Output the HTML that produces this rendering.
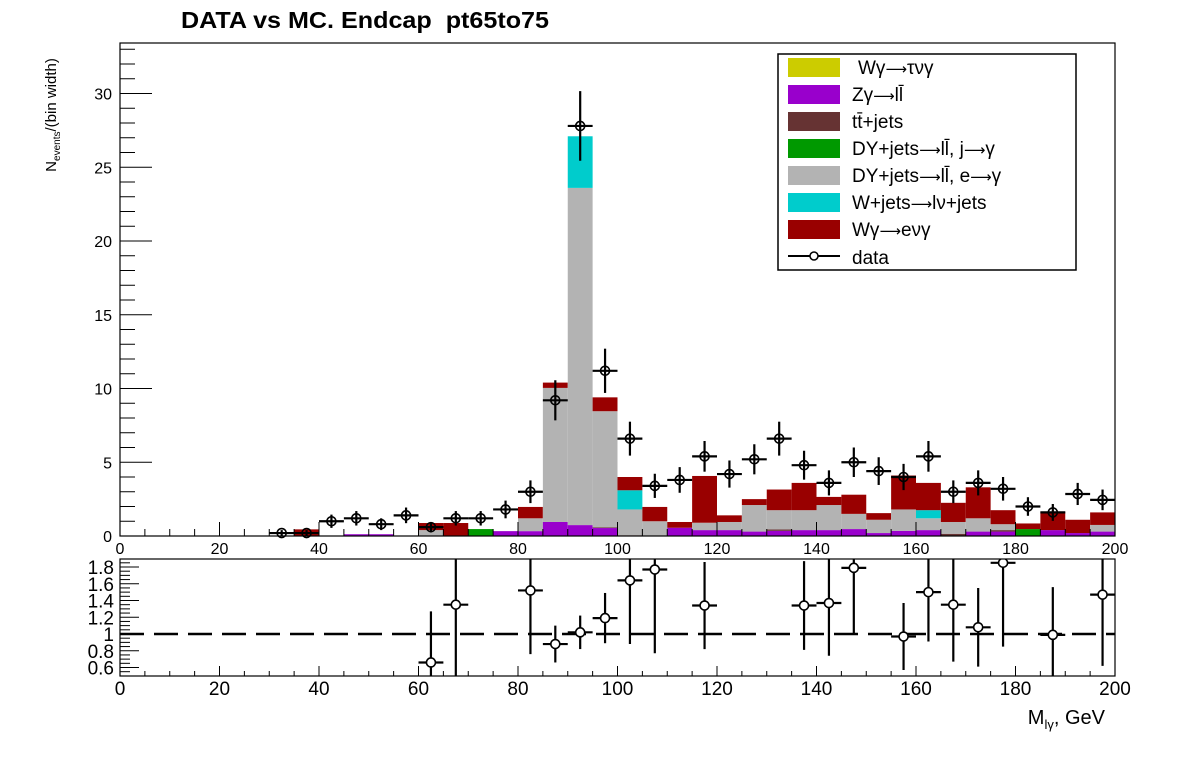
<!DOCTYPE html>
<html><head><meta charset="utf-8"><style>
body{margin:0;background:#fff;}
svg{display:block;font-family:"Liberation Sans",sans-serif;}
.ar{font-family:"DejaVu Sans",sans-serif;font-size:15px;}
</style></head><body>
<svg id="c" width="1196" height="774" viewBox="0 0 1196 774">
<rect x="0" y="0" width="1196" height="774" fill="#fff"/>
<text x="181" y="28" font-size="23" font-weight="bold" textLength="368" lengthAdjust="spacingAndGlyphs" xml:space="preserve" style="white-space:pre">DATA vs MC. Endcap  pt65to75</text>
<g id="stack"></g>
<g id="mainaxes"></g>
<g id="datapts"></g>
<g id="ratio"></g>
<text transform="translate(56,115) rotate(-90)" font-size="15" text-anchor="middle">N<tspan font-size="10" dy="4">events</tspan><tspan dy="-4">/(bin width)</tspan></text>
<text x="1105" y="724" font-size="20" text-anchor="end">M<tspan font-size="13" dy="5">lγ</tspan><tspan dy="-5">, GeV</tspan></text>
<g>
<rect x="778" y="54" width="298" height="216" fill="#fff" stroke="#000" stroke-width="1.5"/>
<g font-size="19">
<rect x="788" y="58" width="52" height="19" fill="#cccc00"/>
<text x="858" y="74">Wγ<tspan class="ar">⟶</tspan>τνγ</text>
<rect x="788" y="85" width="52" height="19" fill="#9900cc"/>
<text x="852" y="101">Zγ<tspan class="ar">⟶</tspan>ll̄</text>
<rect x="788" y="112" width="52" height="19" fill="#663333"/>
<text x="852" y="128">tt̄+jets</text>
<rect x="788" y="139" width="52" height="19" fill="#009900"/>
<text x="852" y="155">DY+jets<tspan class="ar">⟶</tspan>ll̄, j<tspan class="ar">⟶</tspan>γ</text>
<rect x="788" y="166" width="52" height="19" fill="#b3b3b3"/>
<text x="852" y="182">DY+jets<tspan class="ar">⟶</tspan>ll̄, e<tspan class="ar">⟶</tspan>γ</text>
<rect x="788" y="193" width="52" height="19" fill="#00cccc"/>
<text x="852" y="209">W+jets<tspan class="ar">⟶</tspan>lν+jets</text>
<rect x="788" y="220" width="52" height="19" fill="#990000"/>
<text x="852" y="236">Wγ<tspan class="ar">⟶</tspan>eνγ</text>
<line x1="788" y1="256" x2="840" y2="256" stroke="#000" stroke-width="2"/>
<circle cx="814" cy="256" r="4" fill="#fff" stroke="#000" stroke-width="1.5"/>
<text x="852" y="264">data</text>
</g></g>
</svg>
<script>
// bins: 40 bins of 5 GeV from 0 to 200
const binEdgesStart = 0;
const binWidth = 5;
const zgamma = [0,0,0,0,0,0,0,0,0,0.12,0.12,0,0,0,0,0.33,0.33,0.95,0.74,0.54,0,0,0.56,0.4,0.4,0.3,0.35,0.4,0.4,0.47,0.2,0.35,0.4,0,0.3,0.3,0,0.4,0.2,0.3];
const ttbar = [0,0,0,0,0,0,0,0,0,0,0,0,0,0,0,0,0,0,0,0.05,0.05,0,0,0,0,0,0.1,0,0,0,0,0,0,0.15,0,0.1,0,0,0,0];
const dyJet = [0,0,0,0,0,0,0,0,0,0,0,0,0,0,0.47,0,0,0,0,0,0,0,0,0,0,0,0,0,0,0,0,0,0,0,0,0,0.47,0,0,0];
const dyEle = [0,0,0,0,0,0,0,0,0,0,0,0,0.4,0,0,0,0.87,9.09,22.86,7.87,1.75,1.0,0,0.5,0.55,1.8,1.3,1.35,1.7,1.03,0.9,1.45,0.8,0.8,0.9,0.4,0,0,0,0.45];
const wjets = [0,0,0,0,0,0,0,0,0,0,0,0,0,0,0,0,0,0,3.5,0,1.3,0,0,0,0,0,0,0,0,0,0,0,0.55,0,0,0,0,0,0,0];
const wgEnu = [0,0,0,0,0,0,0,0.45,0,0,0,0,0.48,0.88,0,0,0.77,0.36,0,0.94,0.9,0.97,0.39,3.17,0.45,0.4,1.4,1.85,0.55,1.3,0.45,2.3,1.85,1.3,2.1,0.95,0.38,1.25,0.9,0.85];
const wgTau = [0,0,0,0,0,0,0,0,0,0,0,0,0,0,0,0,0,0,0,0,0,0,0,0,0,0,0,0,0,0,0,0,0,0,0,0,0,0,0,0];
const dataX = [32.5,37.5,42.5,47.5,52.5,57.5,62.5,67.5,72.5,77.5,82.5,87.5,92.5,97.5,102.5,107.5,112.5,117.5,122.5,127.5,132.5,137.5,142.5,147.5,152.5,157.5,162.5,167.5,172.5,177.5,182.5,187.5,192.5,197.5];
const dataY = [0.2,0.2,1.0,1.2,0.8,1.4,0.6,1.2,1.2,1.8,3.0,9.2,27.8,11.2,6.6,3.4,3.8,5.4,4.2,5.2,6.6,4.8,3.6,5.0,4.4,4.0,5.4,3.0,3.6,3.2,2.0,1.6,2.85,2.45];
const dataErr = [0.2,0.2,0.45,0.49,0.4,0.53,0.35,0.49,0.49,0.6,0.77,1.36,2.36,1.5,1.15,0.82,0.87,1.04,0.92,1.02,1.15,0.98,0.85,1.0,0.94,0.89,1.04,0.77,0.85,0.8,0.63,0.57,0.75,0.7];
const ratioX = [62.5,67.5,82.5,87.5,92.5,97.5,102.5,107.5,117.5,137.5,142.5,147.5,157.5,162.5,167.5,172.5,177.5,187.5,197.5];
const ratioY = [0.66,1.35,1.52,0.88,1.02,1.19,1.64,1.77,1.34,1.34,1.37,1.79,0.97,1.5,1.35,1.08,1.85,0.99,1.47];
const ratioErr = [0.61,1.0,0.76,0.22,0.2,0.3,0.76,1.0,0.52,0.53,0.63,0.79,0.4,0.59,0.68,0.47,1.0,0.57,0.85];
const xTicks = [0,20,40,60,80,100,120,140,160,180,200];
const yTicks = [0,5,10,15,20,25,30];
const rTicks = [0.6,0.8,1,1.2,1.4,1.6,1.8];

const NS='http://www.w3.org/2000/svg';
const L=120,R=1115,T=43,B=536, RT=559,RB=676;
const X=v=>L+(v-0)*(R-L)/200;
const Y=v=>B-v*14.75;
const RY=v=>634-(v-1)*83.75;
function mk(tag,attrs,parent){const e=document.createElementNS(NS,tag);for(const k in attrs)e.setAttribute(k,attrs[k]);parent.appendChild(e);return e;}
const stack=document.getElementById('stack');
const comps=[[zgamma,'#9900cc','zgamma'],[ttbar,'#663333','ttbar'],[dyJet,'#009900','dy-jet'],[dyEle,'#b3b3b3','dy-ele'],[wjets,'#00cccc','wjets'],[wgEnu,'#990000','wgamma-enu'],[wgTau,'#cccc00','wgamma-taunu']];
for(let i=0;i<40;i++){
  let base=0;
  const x0=X(binEdgesStart+i*binWidth), x1=X(binEdgesStart+(i+1)*binWidth);
  for(const [arr,col,nm] of comps){
    const v=arr[i]; if(v<=0) continue;
    const r=mk('rect',{x:x0,y:Y(base+v),width:x1-x0,height:Y(base)-Y(base+v),fill:col},stack);
    
    
    base+=v;
  }
}
const ax=document.getElementById('mainaxes');
function frame(t,b,parent,name){const r=mk('rect',{x:L,y:t,width:R-L,height:b-t,fill:'none',stroke:'#000','stroke-width':1.2},parent);

}
frame(T,B,ax,'main-frame');
for(let v=0;v<=33;v++){const maj=v%5===0;mk('line',{x1:L,x2:L+(maj?32:15),y1:Y(v),y2:Y(v),stroke:'#000','stroke-width':1},ax);}
for(const v of yTicks){const t=mk('text',{x:L-8,y:Y(v)+6,'font-size':16,'text-anchor':'end'},ax);t.textContent=v;

}
for(let v=0;v<=200;v+=5){const maj=v%20===0;mk('line',{x1:X(v),x2:X(v),y1:B,y2:B-(maj?14:7),stroke:'#000','stroke-width':1},ax);}
for(const v of xTicks){const t=mk('text',{x:X(v),y:554,'font-size':16,'text-anchor':'middle'},ax);t.textContent=v;

}
const dp=document.getElementById('datapts');
dataX.forEach((x,i)=>{
  const y=dataY[i],e=dataErr[i];
  mk('line',{x1:X(x-2.5),x2:X(x+2.5),y1:Y(y),y2:Y(y),stroke:'#000','stroke-width':2.2},dp);
  mk('line',{x1:X(x),x2:X(x),y1:Y(y+e),y2:Math.min(B,Y(y-e)),stroke:'#000','stroke-width':2.2},dp);
  const c=mk('circle',{cx:X(x),cy:Y(y),r:4.5,fill:'none',stroke:'#000','stroke-width':1.6},dp);
  
  
});
const rp=document.getElementById('ratio');
mk('rect',{x:L,y:RT,width:R-L,height:RB-RT,fill:'#fff'},rp);
const cp=mk('clipPath',{id:'rclip'},rp);mk('rect',{x:L,y:RT,width:R-L,height:RB-RT},cp);
const ln=mk('line',{x1:L,x2:R,y1:RY(1),y2:RY(1),stroke:'#000','stroke-width':2.5,'stroke-dasharray':'24,10'},rp);


const rg=mk('g',{'clip-path':'url(#rclip)'},rp);
ratioX.forEach((x,i)=>{
  const y=ratioY[i],e=ratioErr[i];
  mk('line',{x1:X(x-2.5),x2:X(x+2.5),y1:RY(y),y2:RY(y),stroke:'#000','stroke-width':2.2},rg);
  mk('line',{x1:X(x),x2:X(x),y1:RY(y+e),y2:RY(y-e),stroke:'#000','stroke-width':2.2},rg);
  const c=mk('circle',{cx:X(x),cy:RY(y),r:4.5,fill:'#fff',stroke:'#000','stroke-width':1.6},rg);
  
  
});
frame(RT,RB,rp,'ratio-frame');
for(let v=0.55;v<=1.9;v+=0.05){const maj=Math.abs(Math.round(v*10)/10-v)<0.001&&Math.round(v*10)%2===0;mk('line',{x1:L,x2:L+(maj?19:10),y1:RY(v),y2:RY(v),stroke:'#000','stroke-width':1},rp);}
for(const v of rTicks){const t=mk('text',{x:L-6,y:RY(v)+7,'font-size':19,'text-anchor':'end'},rp);t.textContent=v;

}
for(let v=0;v<=200;v+=5){const maj=v%20===0;mk('line',{x1:X(v),x2:X(v),y1:RB,y2:RB-(maj?10:5),stroke:'#000','stroke-width':1},rp);}
for(const v of xTicks){const t=mk('text',{x:X(v),y:695,'font-size':19,'text-anchor':'middle'},rp);t.textContent=v;

}
</script>
</body></html>
